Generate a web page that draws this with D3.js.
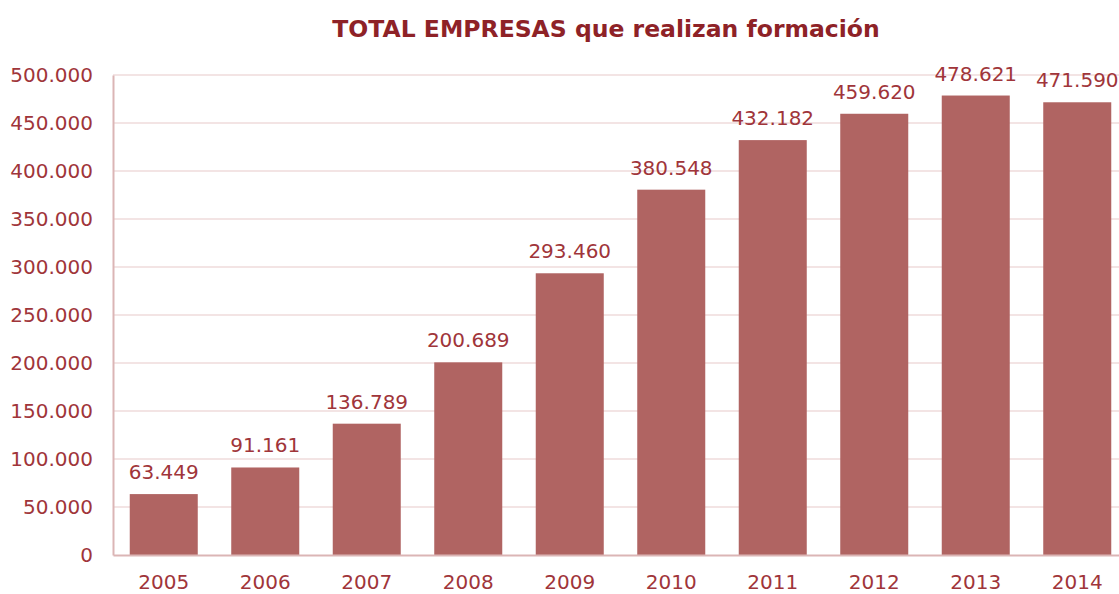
<!DOCTYPE html>
<html><head><meta charset="utf-8">
<script src="https://cdn.jsdelivr.net/npm/d3@7"></script>
<style>
body{margin:0;background:#fff;}
text{font-family:"DejaVu Sans",Verdana,sans-serif;}
</style></head>
<body><svg id="c" width="1119" height="594"></svg>
<script>
const years = ["2005","2006","2007","2008","2009","2010","2011","2012","2013","2014"];
const values = [63449,91161,136789,200689,293460,380548,432182,459620,478621,471590];
const yTicks = [0,50000,100000,150000,200000,250000,300000,350000,400000,450000,500000];
const title = "TOTAL EMPRESAS que realizan formación";

const fmt = v => d3.format(",")(v).replace(/,/g,".");
const svg = d3.select("#c");
const x = d3.scaleBand().domain(years).range([113,1128]).paddingInner(0.33).paddingOuter(0.165);
const y = d3.scaleLinear().domain([0,500000]).range([555,75]);

const textCol = "#a0353a";
// gridlines
svg.append("g").selectAll("line").data(yTicks.slice(1)).join("line")
  .attr("x1",113).attr("x2",1128).attr("y1",d=>y(d)).attr("y2",d=>y(d))
  .attr("stroke","#f3e4e4").attr("stroke-width",2);

// bars
svg.append("g").selectAll("rect").data(values).join("rect")
  .attr("x",(d,i)=>x(years[i])).attr("width",x.bandwidth())
  .attr("y",d=>y(d)).attr("height",d=>y(0)-y(d))
  .attr("fill","#b06462");

// y axis
const ya = svg.append("g").attr("transform","translate(113,0)")
  .call(d3.axisLeft(y).tickValues(yTicks).tickFormat(fmt).tickSize(0).tickPadding(20));
ya.select(".domain").attr("stroke","#dbb5b5").attr("stroke-width",2);
ya.selectAll("text").attr("fill",textCol).attr("font-size",20).attr("font-family","DejaVu Sans, sans-serif");

// x axis
const xa = svg.append("g").attr("transform","translate(0,555)")
  .call(d3.axisBottom(x).tickSize(0).tickPadding(20));
xa.select(".domain").attr("stroke","#dbb5b5").attr("stroke-width",2);
xa.selectAll("text").attr("fill",textCol).attr("font-size",20).attr("font-family","DejaVu Sans, sans-serif");

// value labels
svg.append("g").selectAll("text").data(values).join("text")
  .attr("x",(d,i)=>x(years[i])+x.bandwidth()/2).attr("y",d=>y(d)-15)
  .attr("text-anchor","middle").attr("fill",textCol).attr("font-size",20)
  .text(d=>fmt(d));

svg.append("text").attr("x",606).attr("y",37).attr("text-anchor","middle")
  .attr("fill","#8e2227").attr("font-weight","bold").attr("font-size",23.5).text(title);
</script></body></html>
